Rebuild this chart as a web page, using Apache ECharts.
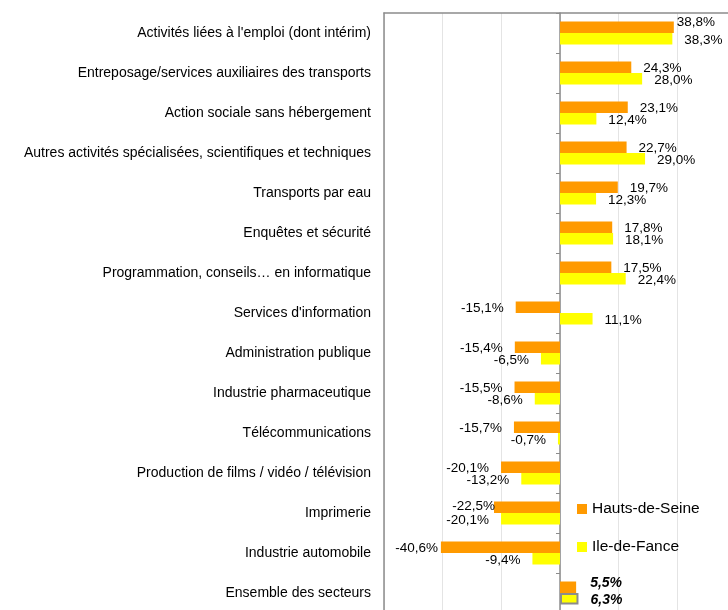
<!DOCTYPE html>
<html>
<head>
<meta charset="utf-8">
<script src="https://cdn.jsdelivr.net/npm/echarts@6/dist/echarts.min.js"></script>
<style>
  html, body { margin: 0; padding: 0; background: #fff; }
  #chart { width: 728px; height: 610px; }
</style>
</head>
<body>
<div id="chart"></div>
<script>
// secteurs, du haut vers le bas
var secteurs = [
    "Activités liées à l'emploi (dont intérim)",
    "Entreposage/services auxiliaires des transports",
    "Action sociale sans hébergement",
    "Autres activités spécialisées, scientifiques et techniques",
    "Transports par eau",
    "Enquêtes et sécurité",
    "Programmation, conseils… en informatique",
    "Services d'information",
    "Administration publique",
    "Industrie pharmaceutique",
    "Télécommunications",
    "Production de films / vidéo / télévision",
    "Imprimerie",
    "Industrie automobile",
    "Ensemble des secteurs"
];
var hautsDeSeine = [38.8, 24.3, 23.1, 22.7, 19.7, 17.8, 17.5, -15.1, -15.4, -15.5, -15.7, -20.1, -22.5, -40.6, 5.5];
var ileDeFrance = [38.3, 28.0, 12.4, 29.0, 12.3, 18.1, 22.4, 11.1, -6.5, -8.6, -0.7, -13.2, -20.1, -9.4, 6.3];

var police = 'Liberation Sans';
var lastIdx = secteurs.length - 1;

// étiquettes déplacées à la main dans l'original (Hauts-de-Seine)
var decalagesHds = { 0: [-9, -5], 12: [13, -1], 13: [9, 1], 14: [2, -4] };

function fmt(v) {
    return v.toFixed(1).replace('.', ',') + '%';
}

function buildData(list, isIdf) {
    var out = [];
    for (let i = 0; i < list.length; i++) {
        let v = list[i];
        let item = {
            value: v,
            label: { position: v < 0 ? 'left' : 'right', offset: [0, 1.5] }
        };
        if (!isIdf && decalagesHds[i]) {
            item.label.offset = decalagesHds[i];
        }
        if (i == lastIdx) {
            item.label.fontWeight = 'bold';
            item.label.fontStyle = 'italic';
            item.label.fontSize = 14;
            if (isIdf) {
                item.itemStyle = { borderColor: '#8c8c8c', borderWidth: 2 };
            }
        }
        out.push(item);
    }
    return out;
}

var chart = echarts.init(document.getElementById('chart'));
var labelCommun = {
    show: true,
    distance: 12,
    fontFamily: police,
    fontSize: 13.5,
    color: '#000',
    formatter: function (p) { return fmt(p.value); }
};

var option = {
    animation: false,
    textStyle: { fontFamily: police },
    legend: {
        orient: 'vertical',
        left: 572,
        top: 496,
        icon: 'rect',
        itemWidth: 10,
        itemHeight: 10,
        itemGap: 22,
        textStyle: { fontSize: 15.5, color: '#000', fontFamily: police },
        data: ['Hauts-de-Seine', 'Ile-de-Fance']
    },
    grid: {
        left: 384,
        top: 13,
        width: 352,
        height: 600,
        show: false,
        outerBoundsMode: 'none',
        containLabel: false
    },
    xAxis: {
        type: 'value',
        position: 'top',
        min: -60,
        max: 60,
        interval: 20,
        axisLabel: { show: false },
        axisLine: { show: true, onZero: false, lineStyle: { color: '#8c8c8c', width: 1.5 } },
        axisTick: { show: false },
        splitLine: { show: true, lineStyle: { color: '#e4e4e4', width: 1 } }
    },
    yAxis: [{
        type: 'category',
        inverse: true,
        data: secteurs,
        position: 'left',
        axisLine: { show: true, onZero: false, lineStyle: { color: '#8c8c8c', width: 1.5 } },
        axisTick: { show: false },
        axisLabel: { margin: 13, fontSize: 14, color: '#000', fontFamily: police }
    }, {
        type: 'category',
        inverse: true,
        data: secteurs,
        position: 'left',
        axisLine: { show: true, onZero: true, lineStyle: { color: '#8c8c8c', width: 1.5 } },
        axisTick: { show: true, length: 4, inside: false, lineStyle: { color: '#8c8c8c' } },
        axisLabel: { show: false }
    }],
    series: [{
        name: 'Hauts-de-Seine',
        type: 'bar',
        yAxisIndex: 0,
        barWidth: 11.5,
        barGap: '0%',
        itemStyle: { color: '#ff9a00' },
        label: labelCommun,
        data: buildData(hautsDeSeine, false)
    }, {
        name: 'Ile-de-Fance',
        type: 'bar',
        yAxisIndex: 0,
        barWidth: 11.5,
        barGap: '0%',
        itemStyle: { color: '#ffff00' },
        label: labelCommun,
        data: buildData(ileDeFrance, true)
    }]
};

chart.setOption(option);
</script>
</body>
</html>
